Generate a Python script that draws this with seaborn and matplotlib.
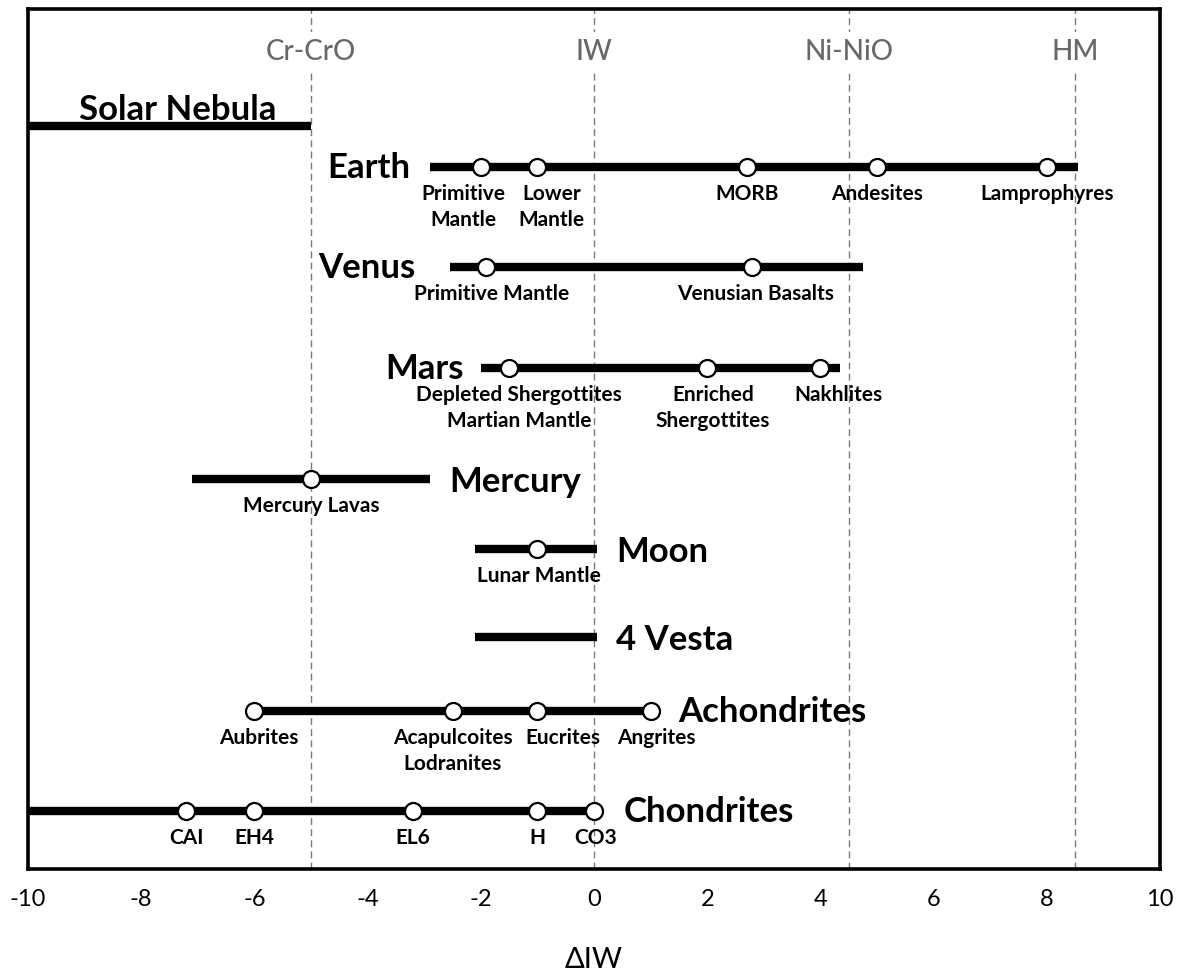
import matplotlib
matplotlib.use("Agg")
import matplotlib.pyplot as plt
import seaborn as sns
import pandas as pd

# ---------------- data ----------------
bodies = ["Solar Nebula", "Earth", "Venus", "Mars", "Mercury", "Moon",
          "4 Vesta", "Achondrites", "Chondrites"]
range_lo = [-10.0, -2.9, -2.55, -2.0, -7.1, -2.1, -2.1, -6.0, -10.0]
range_hi = [-5.0, 8.55, 4.75, 4.35, -2.9, 0.05, 0.05, 1.0, 0.0]

point_body = (["Earth"] * 5 + ["Venus"] * 2 + ["Mars"] * 3 + ["Mercury"] +
              ["Moon"] + ["Achondrites"] * 4 + ["Chondrites"] * 5)
point_value = [-2.0, -1.0, 2.7, 5.0, 8.0,
               -1.9, 2.8,
               -1.5, 2.0, 4.0,
               -5.0,
               -1.0,
               -6.0, -2.5, -1.0, 1.0,
               -7.2, -6.0, -3.2, -1.0, 0.0]
point_label = ["Primitive\nMantle", "Lower\nMantle", "MORB", "Andesites", "Lamprophyres",
               "Primitive Mantle", "Venusian Basalts",
               "Depleted Shergottites\nMartian Mantle", "Enriched\nShergottites", "Nakhlites",
               "Mercury Lavas",
               "Lunar Mantle",
               "Aubrites", "Acapulcoites\nLodranites", "Eucrites", "Angrites",
               "CAI", "EH4", "EL6", "H", "CO3"]

buffer_names = ["Cr-CrO", "IW", "Ni-NiO", "HM"]
buffer_values = [-5.0, 0.0, 4.5, 8.5]

xtick_values = list(range(-10, 11, 2))
x_label = "ΔIW"

# ---------------- layout (positions only) ----------------
row_y = [117, 158, 258, 359, 470, 540, 628, 702, 802]          # vertical slot of each body
# body-name placement: (x, y offset, ha, va)
name_pos = [(-7.35, -7, "center", "baseline"), (-3.25, 0, "right", "center"),
            (-3.15, 0, "right", "center"), (-2.3, 0, "right", "center"),
            (-2.55, 2, "left", "center"), (0.39, 2, "left", "center"),
            (0.39, 2, "left", "center"), (1.48, 0, "left", "center"),
            (0.53, 0, "left", "center")]
label_dx = [-0.3, 0.25, 0.0, 0.0, 0.0,
            0.1, 0.05,
            0.18, 0.1, 0.32,
            0.0,
            0.03,
            0.07, 0.0, 0.45, 0.1,
            0.0, 0.0, 0.0, 0.0, 0.03]

# ---------------- plotting ----------------
sns.set_theme(style="white")
plt.rcParams["font.family"] = ["Lato", "DejaVu Sans"]
plt.rcParams["text.color"] = "black"
plt.rcParams["xtick.color"] = "black"
plt.rcParams["axes.labelcolor"] = "black"

fig = plt.figure(figsize=(11.94, 9.79), dpi=100)
ax = fig.add_axes([28 / 1194, 1 - 870 / 979, (1160 - 28) / 1194, 860 / 979])

ranges = pd.DataFrame({"body": bodies, "lo": range_lo, "hi": range_hi, "row": row_y})
row_of = dict(zip(bodies, row_y))
points = pd.DataFrame({"body": point_body, "value": point_value, "label": point_label})
points["row"] = points["body"].map(row_of)

# buffer reference lines
for bx, bn in zip(buffer_values, buffer_names):
    ax.axvline(bx, color="#7a7a7a", lw=1.0, ls=(0, (5, 3)), zorder=1)
    ax.text(bx, 42, bn, ha="center", va="center", fontsize=20, color="#686868",
            fontweight="medium", zorder=2,
            bbox=dict(facecolor="white", edgecolor="none", pad=4))

# range bars
for _, r in ranges.iterrows():
    seg = pd.DataFrame({"x": [r["lo"], r["hi"]], "y": [r["row"], r["row"]]})
    sns.lineplot(data=seg, x="x", y="y", color="black", lw=6,
                 solid_capstyle="butt", ax=ax, zorder=3, sort=False)

# sample points
sns.scatterplot(data=points, x="value", y="row", s=150, color="white",
                edgecolor="black", linewidth=1.6, ax=ax, zorder=4)

# point labels
for (_, p), dx in zip(points.iterrows(), label_dx):
    ax.text(p["value"] + dx, p["row"] + 16, p["label"], ha="center", va="top",
            fontsize=15, fontweight="bold", linespacing=1.38, zorder=5)

# body names
for b, ry, (nx, dy, ha, va) in zip(bodies, row_y, name_pos):
    ax.text(nx, ry + dy, b, ha=ha, va=va, fontsize=25, fontweight="bold", zorder=5)

ax.set_xlim(-10, 10)
ax.set_ylim(860, 0)
ax.set_xticks(xtick_values)
ax.set_xticklabels([str(v) for v in xtick_values], fontsize=17)
ax.set_yticks([])
ax.tick_params(axis="x", length=0, pad=14)
ax.set_xlabel(x_label, fontsize=21, labelpad=26)
ax.set_ylabel("")
for s in ax.spines.values():
    s.set_visible(True)
    s.set_color("black")
    s.set_linewidth(2.6)

fig.savefig("out.png", dpi=100)
